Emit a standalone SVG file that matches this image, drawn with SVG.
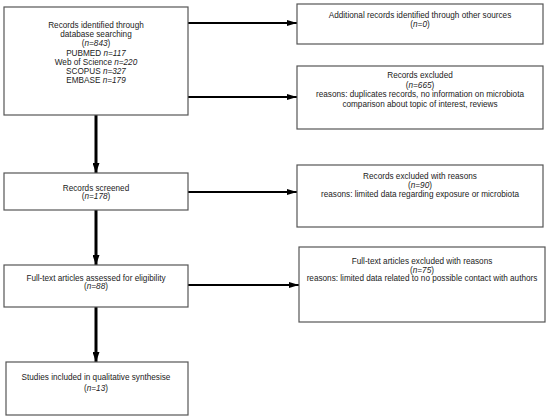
<svg xmlns="http://www.w3.org/2000/svg" width="550" height="420" viewBox="0 0 550 420">
<style>
.box{fill:#fff;stroke:#555;stroke-width:1.2}
text{font-family:"Liberation Sans",Arial,sans-serif;font-size:8.2px;fill:#222;text-anchor:middle}
.i{font-style:italic}
.h{stroke:#000;stroke-width:2;fill:none}
.v{stroke:#000;stroke-width:3;fill:none}
</style>
<defs>
<marker id="ah" markerWidth="10" markerHeight="6" refX="10" refY="3" orient="auto" markerUnits="userSpaceOnUse">
<path d="M0,0 L10,3 L0,6 z" fill="#000"/>
</marker>
<marker id="av" markerWidth="10" markerHeight="7" refX="10" refY="3.5" orient="auto" markerUnits="userSpaceOnUse">
<path d="M0,0 L10,3.5 L0,7 z" fill="#000"/>
</marker>
</defs>
<rect width="550" height="420" fill="#fff"/>
<g id="connectors">
<line class="h" x1="188" y1="23" x2="297" y2="23" marker-end="url(#ah)"/>
<line class="h" x1="188" y1="97" x2="297" y2="97" marker-end="url(#ah)"/>
<line class="h" x1="188" y1="192" x2="297" y2="192" marker-end="url(#ah)"/>
<line class="h" x1="188" y1="285" x2="299" y2="285" marker-end="url(#ah)"/>
<line class="v" x1="96" y1="115" x2="96" y2="173" marker-end="url(#av)"/>
<line class="v" x1="96" y1="210" x2="96" y2="265" marker-end="url(#av)"/>
<line class="v" x1="96" y1="307" x2="96" y2="362" marker-end="url(#av)"/>
</g>
<g id="identified">
<rect class="box" x="4" y="7" width="184" height="108"/>
<text x="96" y="28">Records identified through</text>
<text x="96" y="37">database searching</text>
<text x="96" y="46">(<tspan class="i">n=843</tspan>)</text>
<text x="96" y="55.5">PUBMED <tspan class="i">n=117</tspan></text>
<text x="96" y="65">Web of Science <tspan class="i">n=220</tspan></text>
<text x="96" y="74">SCOPUS <tspan class="i">n=327</tspan></text>
<text x="96" y="83">EMBASE <tspan class="i">n=179</tspan></text>
</g>
<g id="additional">
<rect class="box" x="297" y="4" width="246" height="40"/>
<text x="420" y="18">Additional records identified through other sources</text>
<text x="420" y="27">(<tspan class="i">n=0</tspan>)</text>
</g>
<g id="excluded">
<rect class="box" x="297" y="66" width="246" height="63"/>
<text x="420" y="78">Records excluded</text>
<text x="420" y="87.5">(<tspan class="i">n=665</tspan>)</text>
<text x="420" y="97">reasons: duplicates records, no information on microbiota</text>
<text x="420" y="106.5">comparison about topic of interest, reviews</text>
</g>
<g id="screened">
<rect class="box" x="4" y="173" width="184" height="37"/>
<text x="96" y="191">Records screened</text>
<text x="96" y="199">(<tspan class="i">n=178</tspan>)</text>
</g>
<g id="excluded2">
<rect class="box" x="297" y="165" width="246" height="62"/>
<text x="420" y="179">Records excluded with reasons</text>
<text x="420" y="188">(<tspan class="i">n=90</tspan>)</text>
<text x="420" y="197">reasons: limited data regarding exposure or microbiota</text>
</g>
<g id="fulltext">
<rect class="box" x="4" y="265" width="184" height="42"/>
<text x="96" y="281">Full-text articles assessed for eligibility</text>
<text x="96" y="289">(<tspan class="i">n=88</tspan>)</text>
</g>
<g id="excluded3">
<rect class="box" x="299" y="247" width="246" height="75"/>
<text x="422" y="264">Full-text articles excluded with reasons</text>
<text x="422" y="272.5">(<tspan class="i">n=75</tspan>)</text>
<text x="422" y="281">reasons: limited data related to no possible contact with authors</text>
</g>
<g id="studies">
<rect class="box" x="6" y="362" width="182" height="53"/>
<text x="96" y="380">Studies included in qualitative synthesise</text>
<text x="96" y="391">(<tspan class="i">n=13</tspan>)</text>
</g>
</svg>
